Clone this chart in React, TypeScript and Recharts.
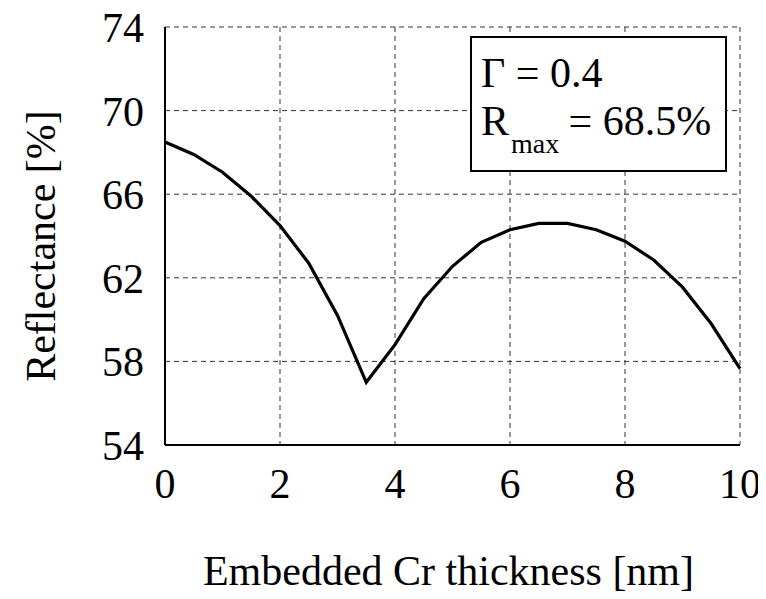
import React from "react";
import { LineChart, Line, XAxis, YAxis, CartesianGrid, Label } from "recharts";

const thickness = [0, 0.5, 1, 1.5, 2, 2.5, 3, 3.5, 4, 4.5, 5, 5.5, 6, 6.5, 7, 7.5, 8, 8.5, 9, 9.5, 10];
const reflectance = [68.5, 67.9, 67.05, 65.9, 64.5, 62.7, 60.2, 57.0, 58.8, 61.0, 62.55, 63.7, 64.3, 64.6, 64.6, 64.3, 63.75, 62.85, 61.55, 59.8, 57.65];
const xTicks = [0, 2, 4, 6, 8, 10];
const yTicks = [54, 58, 62, 66, 70, 74];

const data = thickness.map((x, i) => ({ x, r: reflectance[i] }));

const FONT = "Liberation Serif, Tinos, Times New Roman, Times, DejaVu Serif, serif";
const textStyle = { fontFamily: FONT };

export default function App() {
  return (
    <div style={{ position: "relative", width: 758, height: 591, fontFamily: FONT }}>
      <LineChart
        width={758}
        height={591}
        data={data}
        margin={{ top: 19, right: 26, bottom: 0, left: 0 }}
        style={textStyle}
      >
        <CartesianGrid stroke="#333" strokeDasharray="5 4" strokeWidth={1} />
        <XAxis
          dataKey="x"
          type="number"
          domain={[0, 10]}
          ticks={xTicks}
          height={154}
          tickLine={false}
          tickSize={0}
          tickMargin={23}
          axisLine={{ stroke: "#000", strokeWidth: 2 }}
          tick={{ fontSize: 42, fill: "#000", style: textStyle }}
          interval={0}
        >
          <Label
            content={(props: any) => {
              const vb = props.viewBox;
              return (
                <text
                  x={vb.x + vb.width / 2 - 4}
                  y={vb.y + 140}
                  textAnchor="middle"
                  fontSize={42}
                  style={textStyle}
                  fill="#000"
                >
                  Embedded Cr thickness [nm]
                </text>
              );
            }}
          />
        </XAxis>
        <XAxis
          xAxisId="top"
          orientation="top"
          dataKey="x"
          type="number"
          domain={[0, 10]}
          height={0}
          tick={false}
          tickLine={false}
          axisLine={{ stroke: "#000", strokeWidth: 2 }}
        />
        <YAxis
          type="number"
          domain={[54, 74]}
          ticks={yTicks}
          width={157}
          tickLine={false}
          tickSize={0}
          tickMargin={21}
          axisLine={{ stroke: "#000", strokeWidth: 2 }}
          tick={{ fontSize: 42, fill: "#000", style: textStyle }}
          interval={0}
        >
          <Label
            content={(props: any) => {
              const vb = props.viewBox;
              const cx = 47;
              const cy = vb.y + vb.height / 2 + 10;
              return (
                <text
                  x={cx}
                  y={cy}
                  transform={`rotate(-90, ${cx}, ${cy})`}
                  textAnchor="middle"
                  fontSize={42}
                  style={textStyle}
                  fill="#000"
                >
                  Reflectance [%]
                </text>
              );
            }}
          />
        </YAxis>
        <YAxis
          yAxisId="right"
          orientation="right"
          type="number"
          domain={[54, 74]}
          width={0}
          tick={false}
          tickLine={false}
          axisLine={{ stroke: "#000", strokeWidth: 2 }}
        />
        <Line
          type="linear"
          dataKey="r"
          stroke="#000"
          strokeWidth={3.2}
          dot={false}
          isAnimationActive={false}
        />
      </LineChart>
      <svg
        width={258}
        height={137}
        style={{ position: "absolute", left: 462, top: 28 }}
      >
        <rect x={1} y={1} width={255} height={134} fill="#fff" stroke="#000" strokeWidth={2} />
        <text x={11} y={50.7} fontSize={42} style={textStyle} fill="#000">
          Γ = 0.4
        </text>
        <text x={11} y={99} fontSize={42} style={textStyle} fill="#000">
          R
        </text>
        <text x={41} y={117} fontSize={28} style={textStyle} fill="#000">
          max
        </text>
        <text x={98.5} y={99} fontSize={42} style={textStyle} fill="#000">
          = 68.5%
        </text>
      </svg>
    </div>
  );
}
